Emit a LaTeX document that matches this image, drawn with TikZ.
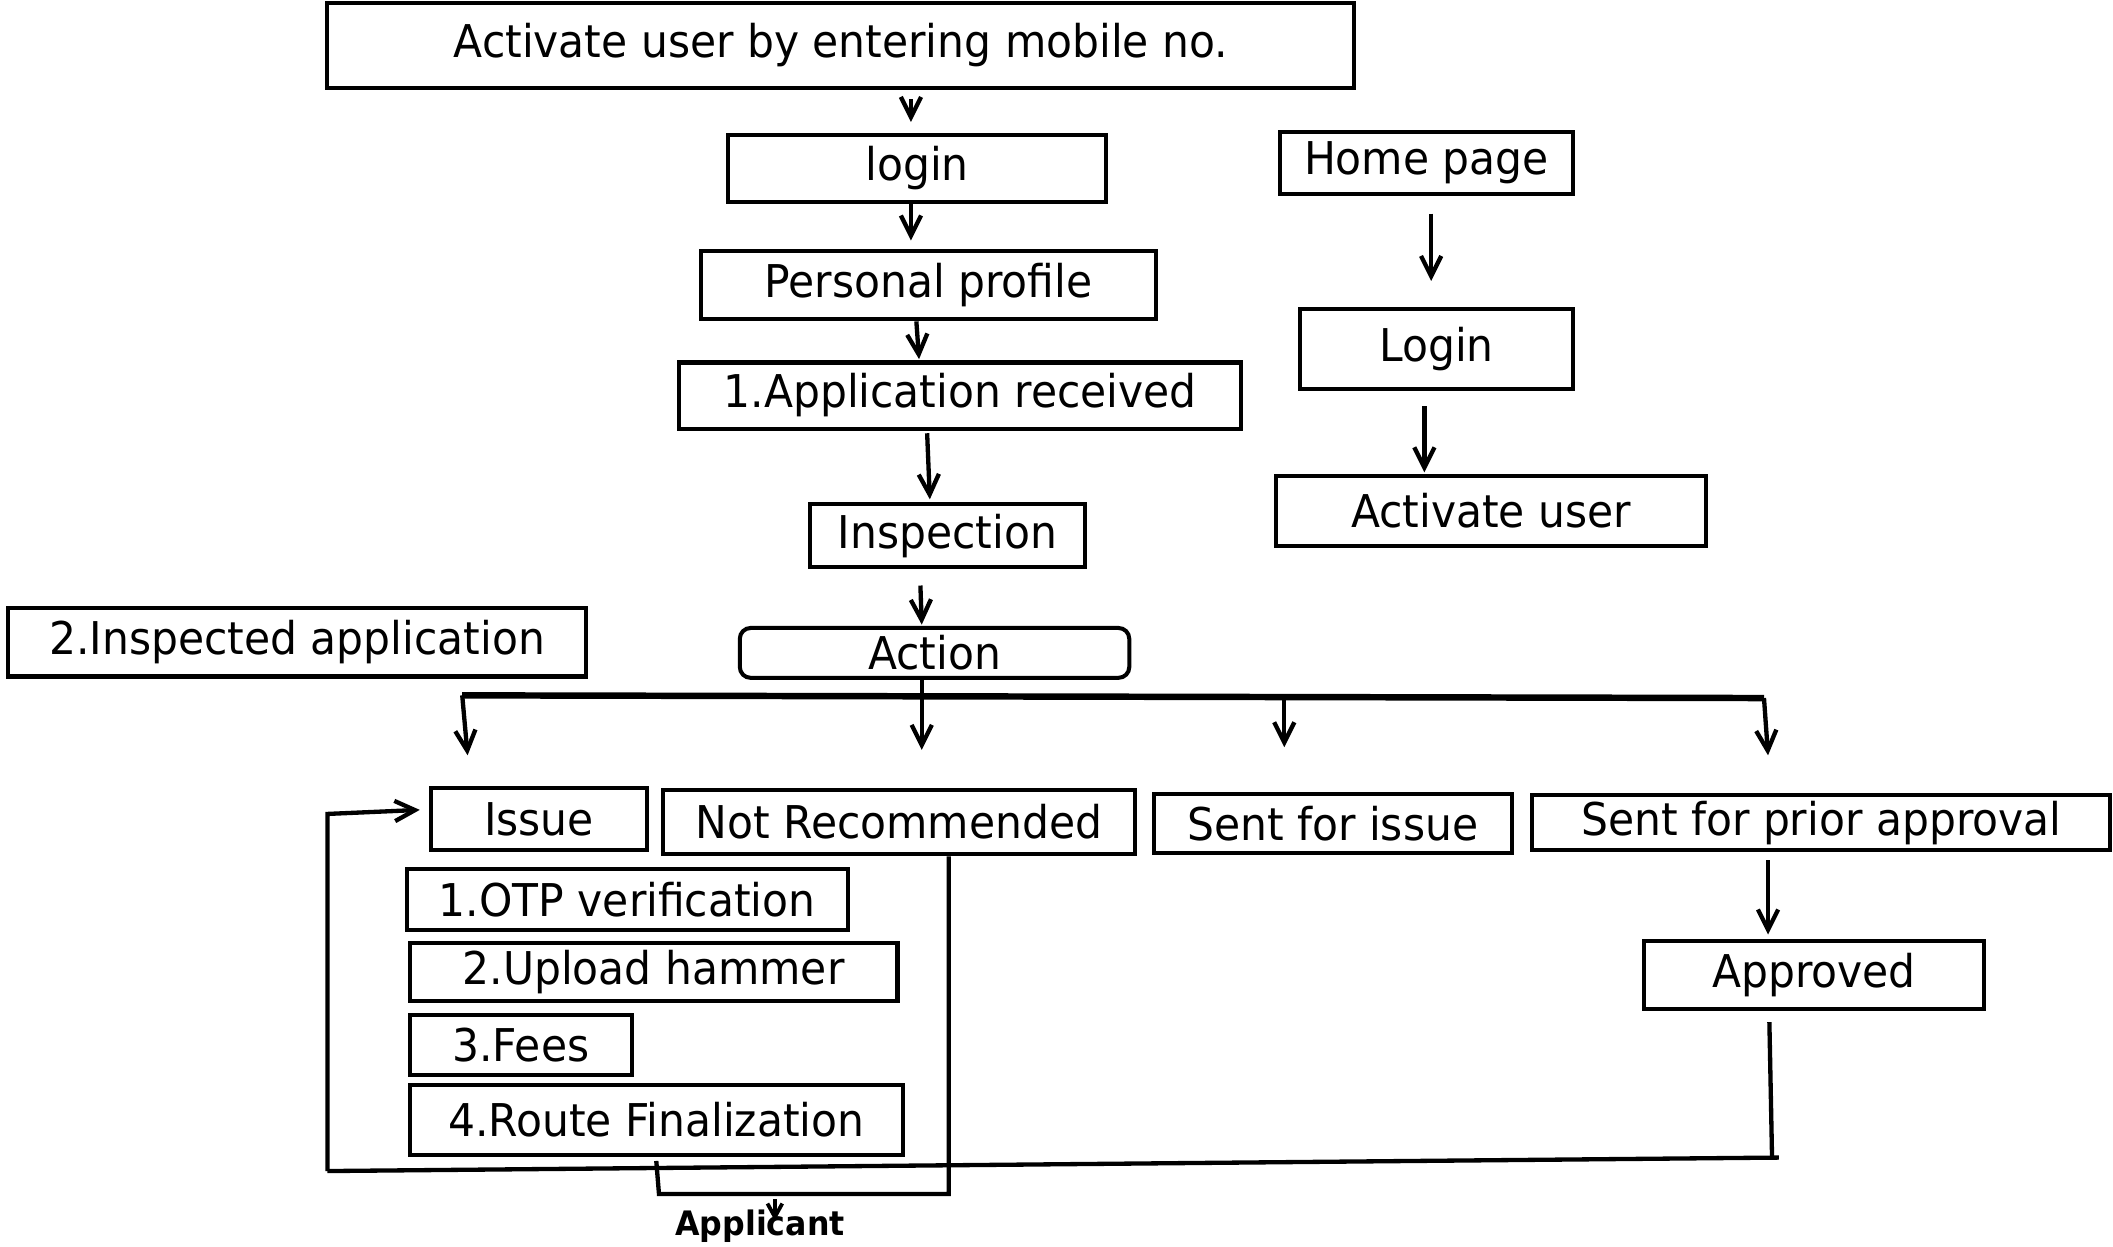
\documentclass[tikz,border=0pt]{standalone}
\usepackage{fontspec}
\setmainfont[FakeStretch=0.94]{DejaVu Sans}
\usetikzlibrary{arrows.meta}
\begin{document}
\begin{tikzpicture}[x=1pt,y=-1pt,
  box/.style={draw, line width=3pt, inner sep=0pt, font=\fontsize{33.5}{38}\selectfont},
  ln/.style={line width=3.2pt},
  arr/.style={line width=3.2pt, -{Straight Barb[length=15pt,width=15pt]}}]
\useasboundingbox[fill=white] (0,0) rectangle (1568,925);
% left column
\node[box, minimum width=762pt, minimum height=63pt] (top) at (624,33.5) {Activate user by entering mobile no.};
\node[box, minimum width=281pt, minimum height=50pt] (login) at (680.5,125) {login};
\node[box, minimum width=338pt, minimum height=51pt] (pp) at (689,211.5) {Personal profile};
\node[box, minimum width=417pt, minimum height=49pt] (app) at (712.5,293.5) {1.Application received};
\node[box, minimum width=204pt, minimum height=47pt] (insp) at (703,397.5) {Inspection};
\node[box, rounded corners=8pt, minimum width=289pt, minimum height=37pt] (action) at (693.5,484.5) {Action};
\node[box, minimum width=429pt, minimum height=51pt] (inspected) at (220.5,476.5) {2.Inspected application};
% right column
\node[box, minimum width=217pt, minimum height=46pt] (home) at (1058.5,121) {Home page};
\node[box, minimum width=202pt, minimum height=60pt] (Login) at (1066,259) {Login};
\node[box, minimum width=319pt, minimum height=52pt] (actuser) at (1106.5,379) {Activate user};
% branches
\node[box, minimum width=160pt, minimum height=46pt] (issue) at (400,608) {Issue};
\node[box, minimum width=350pt, minimum height=48pt] (notrec) at (667,610) {Not Recommended};
\node[box, minimum width=266pt, minimum height=44pt] (sentissue) at (989,611) {Sent for issue};
\node[box, minimum width=429pt, minimum height=41pt] (sentprior) at (1351.5,610.5) {Sent for prior approval};
\node[box, minimum width=252pt, minimum height=51pt] (approved) at (1346,723.5) {Approved};
% issue steps
\node[box, minimum width=327pt, minimum height=45pt] (otp) at (465.5,667.5) {1.OTP verification};
\node[box, minimum width=362pt, minimum height=43pt] (upload) at (485,721.5) {2.Upload hammer};
\node[box, minimum width=165pt, minimum height=45pt] (fees) at (386.5,775.5) {3.Fees};
\node[box, minimum width=366pt, minimum height=52pt] (route) at (487,831) {4.Route Finalization};
\node[font=\fontsize{25}{29}\selectfont\bfseries, inner sep=0pt] (appl) at (564,910) {Applicant};
% vertical flow
\draw[arr] ([xshift=52pt,yshift=-7pt]top.south) -- ([xshift=-4.5pt,yshift=8pt]login.north);
\draw[arr] ([xshift=-4.5pt]login.south) -- ([xshift=-13pt,yshift=6pt]pp.north);
\draw[arr] ([xshift=-9pt]pp.south) -- ([xshift=-30.5pt,yshift=1pt]app.north);
\draw[arr] ([xshift=-24.5pt,yshift=-2pt]app.south) -- ([xshift=-13pt,yshift=2pt]insp.north);
\draw[arr] ([xshift=-20pt,yshift=-12pt]insp.south) -- ([xshift=-9.5pt,yshift=1pt]action.north);
\draw[arr] ([xshift=-9.5pt]action.south) -- ([xshift=17pt,yshift=28pt]notrec.north);
% branch line
\coordinate (bl) at (343,516);
\coordinate (bm) at (953,518);
\coordinate (br) at (1309,518);
\draw[line width=4.8pt] (bl) -- (br);
\draw[arr] (bl) -- ([xshift=-53pt,yshift=23pt]issue.north);
\draw[arr] (bm) -- ([xshift=-36pt,yshift=33pt]sentissue.north);
\draw[arr] (br) -- ([xshift=-39.5pt,yshift=28pt]sentprior.north);
% right column arrows
\draw[arr] ([xshift=3.5pt,yshift=-13pt]home.south) -- ([xshift=-4pt,yshift=19pt]Login.north);
\draw[arr] ([xshift=-9pt,yshift=-11pt]Login.south) -- ([xshift=-49.5pt,yshift=1pt]actuser.north);
\draw[arr] ([xshift=-39.5pt,yshift=-6pt]sentprior.south) -- ([xshift=-34pt,yshift=3pt]approved.north);
% return loop to issue
\coordinate (rb) at (1315,860);
\coordinate (re) at (1320,859);
\coordinate (lb) at (243,869);
\coordinate (lt) at (243,604);
\draw[ln] ([xshift=-33pt,yshift=-8pt]approved.south) -- (rb);
\draw[ln] (re) -- (lb);
\draw[arr] (lb) -- (lt) -- ([xshift=-7pt,yshift=7pt]issue.west);
% not recommended to applicant
\coordinate (n1) at (704,886);
\coordinate (n2) at (489,886);
\draw[ln] ([xshift=37pt]notrec.south) -- (n1) -- (n2) -- ([yshift=-3pt]route.south);
\draw[line width=2.8pt, -{Straight Barb[length=10pt,width=11pt]}] ([xshift=11pt,yshift=20pt]appl.center) -- ([xshift=11pt,yshift=4pt]appl.center);
\end{tikzpicture}
\end{document}
